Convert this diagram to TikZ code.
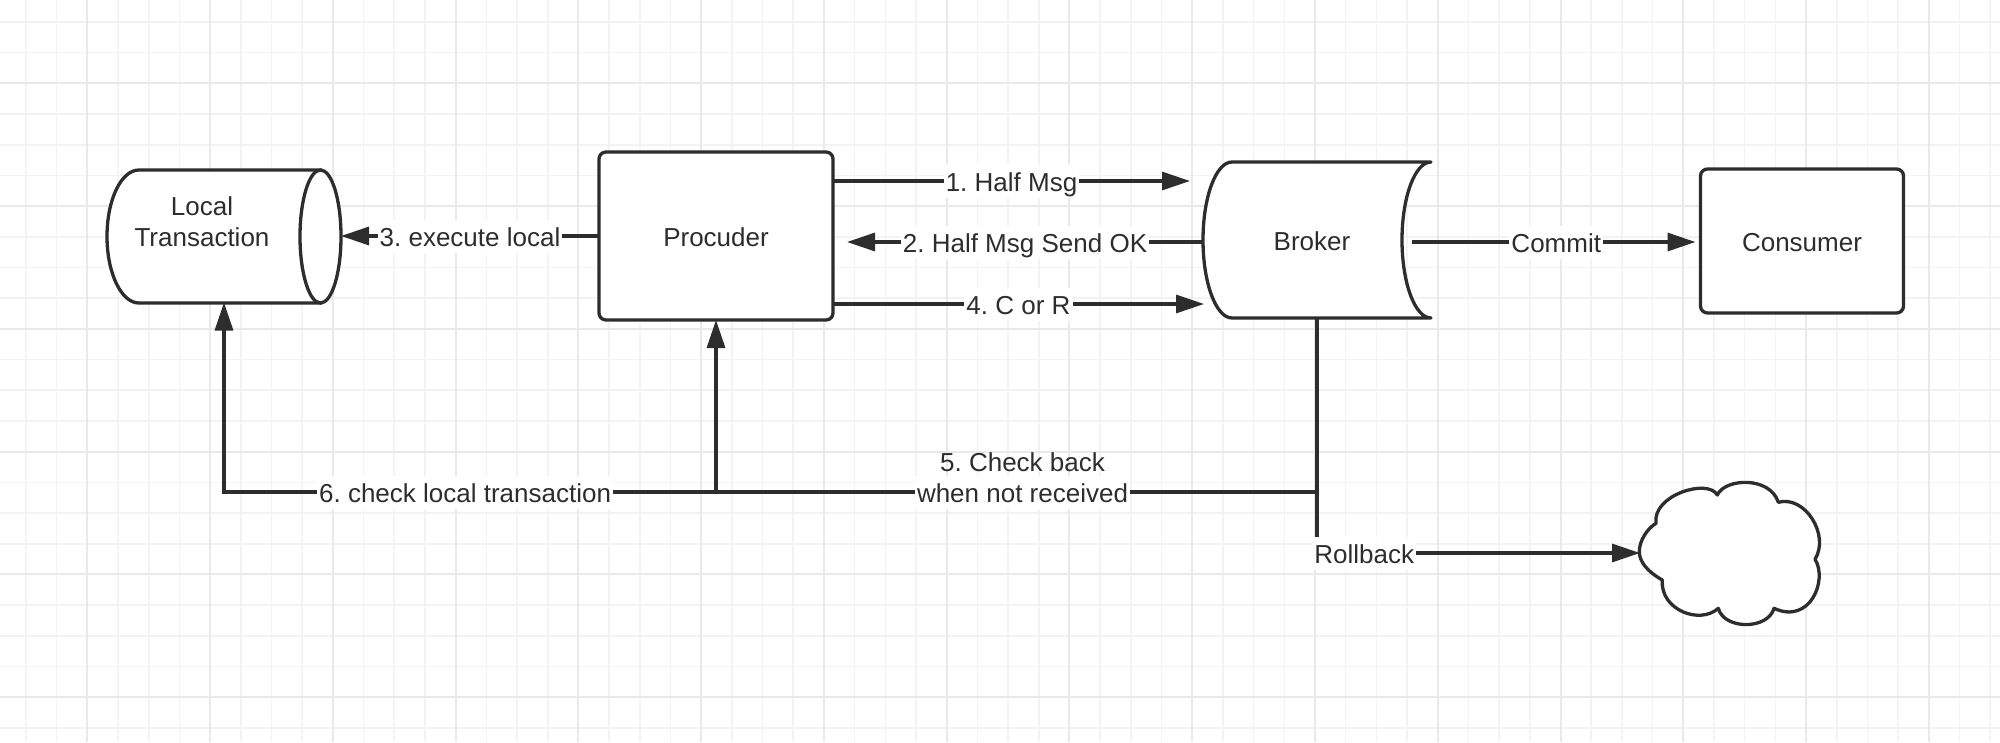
\documentclass[tikz,border=0pt]{standalone}
\usepackage{fontspec}
\setmainfont{Liberation Sans}
\usetikzlibrary{arrows.meta,calc}
\definecolor{ink}{RGB}{45,45,45}
\definecolor{gridminor}{RGB}{243,243,243}
\definecolor{gridmajor}{RGB}{233,233,233}
\frenchspacing
\begin{document}
\begin{tikzpicture}[x=1pt,y=-1pt,
  font=\fontsize{26}{31}\selectfont\frenchspacing,
  shapeline/.style={draw=ink,line width=3.3pt,fill=white},
  boxnode/.style={shapeline,rounded corners=7pt,text=ink,align=center,outer sep=0pt,inner sep=0pt,text height=24pt,text depth=4pt},
  ghost/.style={inner sep=0pt,outer sep=0pt,text=ink,align=center,text height=24pt,text depth=4pt},
  conn/.style={draw=ink,line width=3.2pt},
  arr/.style={conn,-{Triangle[length=28pt,width=18pt]}},
  lbl/.style={fill=white,text=ink,inner xsep=2pt,inner ysep=2.5pt,align=center,text height=24pt,text depth=4pt},
  minorline/.style={draw=gridminor,line width=1.6pt},
  majorline/.style={draw=gridmajor,line width=2pt}
]
\useasboundingbox (0,0) rectangle (2000,742);
\fill[white] (0,0) rectangle (2000,742);
% grid
\foreach \i [evaluate=\i as \gx using 26+30.69*\i] in {0,...,64}
  \draw[minorline] (\gx,0) -- (\gx,742);
\foreach \j [evaluate=\j as \gy using 22+30.69*\j] in {0,...,23}
  \draw[minorline] (0,\gy) -- (2000,\gy);
\foreach \i [evaluate=\i as \gx using 87.4+122.76*\i] in {0,...,15}
  \draw[majorline] (\gx,0) -- (\gx,742);
\foreach \j [evaluate=\j as \gy using 83.4+122.76*\j] in {0,...,5}
  \draw[majorline] (0,\gy) -- (2000,\gy);

% Local Transaction cylinder
\path[shapeline] (320.5,170) -- (139,170)
  .. controls (121.3,170) and (107,199.3) .. (107,236.5)
  .. controls (107,273.2) and (121.3,303) .. (139,303)
  -- (320.5,303) -- cycle;
\draw[shapeline] (320.5,236.5) ellipse (20.5 and 66.5);
\node[ghost,minimum width=234pt,minimum height=133pt] (lt) at (224,236) {};
\node[ghost] (lttext) at (202,236) {Local\\Transaction};

% Procuder
\node[boxnode,minimum width=234pt,minimum height=168pt] (proc) at (716,236) {Procuder};

% Broker (stored data shape)
\path[shapeline,line join=round] (1232,162) -- (1431,162)
  .. controls (1415,162) and (1402,196.9) .. (1402,240)
  .. controls (1402,283.1) and (1415,318) .. (1431,318)
  -- (1232,318)
  .. controls (1216,318) and (1203,283.1) .. (1203,240)
  .. controls (1203,196.9) and (1216,162) .. (1232,162) -- cycle;
\node[ghost,minimum width=228pt,minimum height=156pt] (broker) at (1317,240) {};
\node[ghost] (brokertext) at (1312,240) {Broker};

% Consumer
\node[boxnode,minimum width=203pt,minimum height=144pt] (cons) at (1802,241) {Consumer};

% Cloud
\path[shapeline,line join=round] (1639.3,551.7)
  .. controls (1639.3,540) and (1648,528) .. (1656,523.3)
  .. controls (1652,495) and (1708,478) .. (1717.3,495)
  .. controls (1725,478) and (1770,476) .. (1778.3,502.3)
  .. controls (1805,495) and (1830,535) .. (1815,559.3)
  .. controls (1828,580) and (1810,625) .. (1774,608.3)
  .. controls (1768,630) and (1724,630) .. (1718.3,608.3)
  .. controls (1700,625) and (1660,610) .. (1662.3,580)
  .. controls (1648,572) and (1639.3,562) .. (1639.3,551.7) -- cycle;
\node[ghost,minimum width=183pt,minimum height=144pt] (cloud) at (1731.5,553) {};

% connector end points
\coordinate (m1) at (1190,181);
\coordinate (m2) at (847,242);
\coordinate (m4) at (1204,304);
\coordinate (cm) at (1412,242);
\coordinate (j5) at (1317,492);
\coordinate (j6) at (716,492);
\coordinate (c6) at (224,492);
\coordinate (rb) at (1317,553);

% connectors
\draw[arr] (proc.west) -- node[lbl]{3. execute local} (lt.east);
\draw[arr] (proc.east |- m1) -- node[lbl]{1. Half Msg} (m1);
\draw[arr] (broker.west |- m2) -- node[lbl]{2. Half Msg Send OK} (m2);
\draw[arr] (proc.east |- m4) -- node[lbl]{4. C or R} (m4);
\draw[arr,shorten >=5pt] (cm) -- node[lbl]{Commit} (cons.west |- cm);
\draw[arr] (broker.south) -- (j5) -- node[lbl,pos=0.49]{5. Check back\\when not received} (j6) -- (proc.south);
\draw[arr] (j6) -- node[lbl,pos=0.51]{6. check local transaction} (c6) -- (lt.south);
\draw[arr] (broker.south) -- (rb) -- node[lbl,pos=0.146]{Rollback} (cloud.west |- rb);
\end{tikzpicture}
\end{document}
